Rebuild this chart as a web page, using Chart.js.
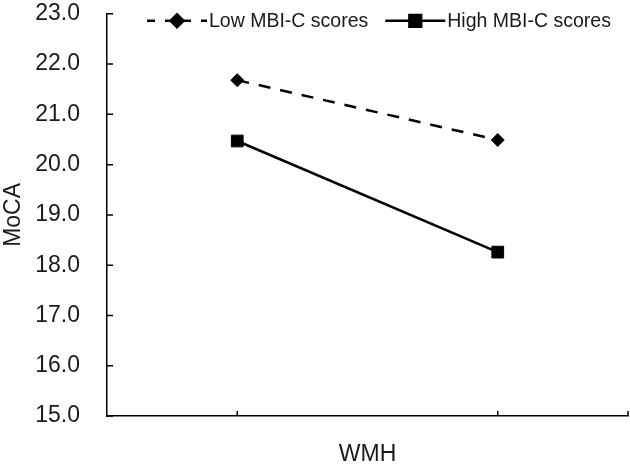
<!DOCTYPE html>
<html>
<head>
<meta charset="utf-8">
<script src="https://cdn.jsdelivr.net/npm/chart.js@4.4.1/dist/chart.umd.min.js"></script>
<style>
  html, body { margin: 0; padding: 0; background: #fff; }
  canvas { display: block; }
</style>
</head>
<body>
<canvas id="chart" width="630" height="468"></canvas>
<script>
// values
const categories = ['', ''];
const lowScores = [21.68, 20.49];
const highScores = [20.47, 18.26];
const seriesNames = ['Low MBI-C scores', 'High MBI-C scores'];
const yMin = 15, yMax = 23, yStep = 1;

const FONT = '"Liberation Sans", Arial, sans-serif';

// ticks pointing into the plot, like the original
const innerTicks = {
    id: 'innerTicks',
    afterDraw(chart) {
        const ctx = chart.ctx;
        const area = chart.chartArea;
        const x = chart.scales.x, y = chart.scales.y;
        ctx.save();
        ctx.strokeStyle = '#000';
        ctx.lineWidth = 1.5;
        ctx.beginPath();
        y.ticks.forEach((t, i) => {
            const py = y.getPixelForTick(i);
            ctx.moveTo(area.left, py);
            ctx.lineTo(area.left + 6, py);
        });
        const xs = categories.map((c, i) => x.getPixelForValue(i));
        xs.push(area.right);
        xs.forEach(px => {
            ctx.moveTo(px, area.bottom);
            ctx.lineTo(px, area.bottom - 5);
        });
        ctx.stroke();
        ctx.restore();
    }
};

// legend with line + marker samples, drawn inside the plot at the top
const lineLegend = {
    id: 'lineLegend',
    afterDraw(chart) {
        const ctx = chart.ctx;
        const area = chart.chartArea;
        let x = area.left + 40;
        const y = area.top + 7;
        ctx.save();
        ctx.font = '19.5px ' + FONT;
        ctx.textBaseline = 'middle';
        chart.data.datasets.forEach(ds => {
            ctx.strokeStyle = '#000';
            ctx.lineWidth = ds.borderWidth;
            ctx.setLineDash(ds.borderDash && ds.borderDash.length ? [8, 10] : []);
            ctx.beginPath();
            ctx.moveTo(x, y);
            ctx.lineTo(x + 60, y);
            ctx.stroke();
            ctx.setLineDash([]);
            ctx.fillStyle = '#000';
            Chart.helpers.drawPoint(ctx, {
                pointStyle: ds.pointStyle,
                radius: ds.pointRadius,
                borderWidth: 1,
                rotation: 0
            }, x + 30, y);
            ctx.fill();
            ctx.fillStyle = '#1a1a1a';
            ctx.fillText(ds.label, x + 62, y + 1);
            x += 62 + ctx.measureText(ds.label).width + 17;
        });
        ctx.restore();
    }
};

new Chart(document.getElementById('chart'), {
    type: 'line',
    data: {
        labels: categories,
        datasets: [{
            label: seriesNames[0],
            data: lowScores,
            borderColor: '#000',
            backgroundColor: '#000',
            borderWidth: 2.5,
            borderDash: [12, 10],
            pointStyle: 'rectRot',
            pointRadius: 6.5,
            pointBorderWidth: 1,
            pointBackgroundColor: '#000',
            tension: 0
        }, {
            label: seriesNames[1],
            data: highScores,
            borderColor: '#000',
            backgroundColor: '#000',
            borderWidth: 2.5,
            pointStyle: 'rect',
            pointRadius: 8.3,
            pointBorderWidth: 1,
            pointBackgroundColor: '#000',
            tension: 0
        }]
    },
    options: {
        responsive: false,
        animation: false,
        devicePixelRatio: 1,
        layout: { autoPadding: false, padding: { top: 10, right: 2, bottom: 0, left: 0 } },
        plugins: {
            legend: { display: false },
            tooltip: { enabled: false }
        },
        scales: {
            x: {
                offset: true,
                grid: { display: false, drawTicks: false },
                border: { display: true, color: '#000', width: 1.5 },
                ticks: { display: false, padding: 0 },
                title: {
                    display: true,
                    text: 'WMH',
                    color: '#1a1a1a',
                    font: { family: FONT, size: 23 },
                    padding: { top: 0, bottom: 0 }
                },
                afterFit: s => { s.height = 52; }
            },
            y: {
                min: yMin,
                max: yMax,
                // invisible tick marks only push the labels away from the axis
                grid: { display: true, drawOnChartArea: false, drawTicks: true, tickLength: 27, color: 'rgba(0,0,0,0)' },
                border: { display: true, color: '#000', width: 1.5 },
                ticks: {
                    stepSize: yStep,
                    padding: 0,
                    color: '#1a1a1a',
                    font: { family: FONT, size: 23 },
                    callback: v => v.toFixed(1)
                },
                title: {
                    display: true,
                    text: 'MoCA',
                    color: '#1a1a1a',
                    font: { family: FONT, size: 23 },
                    padding: { top: 0, bottom: 0 }
                },
                afterFit: s => { s.width = 107; }
            }
        }
    },
    plugins: [innerTicks, lineLegend]
});
</script>
</body>
</html>
